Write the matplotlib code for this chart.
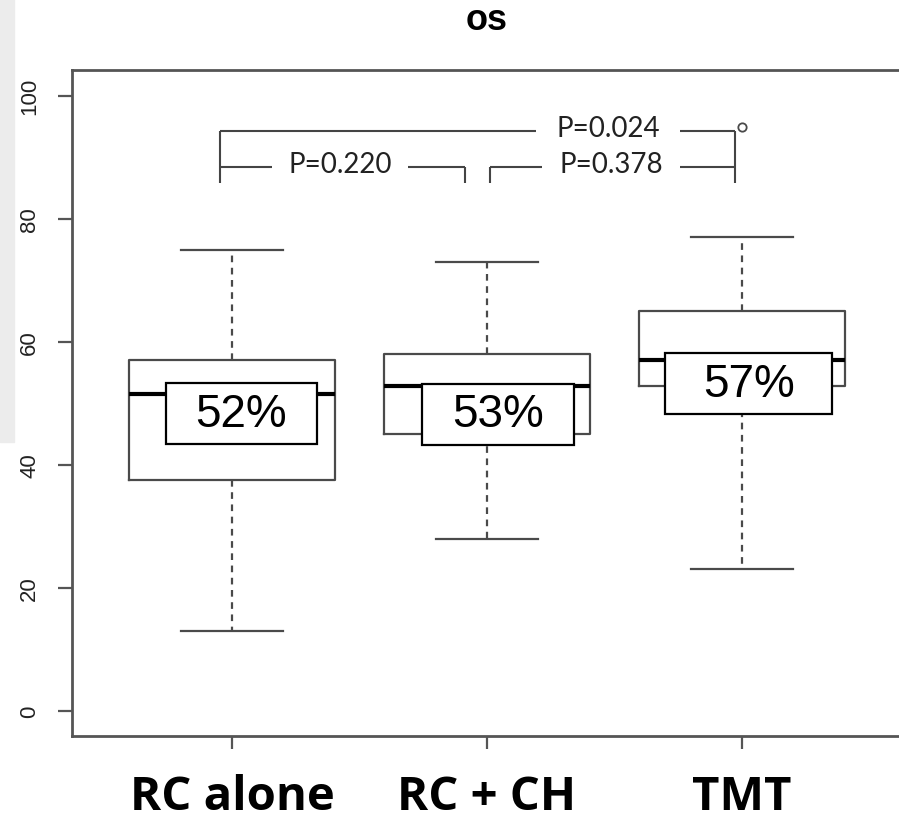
import matplotlib
matplotlib.use("Agg")
import matplotlib.pyplot as plt
from matplotlib.patches import Rectangle

# ---- data ----
groups = ["RC alone", "RC + CH", "TMT"]
whislo = [13, 28, 23]
q1 = [37.5, 45, 52.8]
med = [51.5, 52.8, 57]
q3 = [57, 58, 65]
whishi = [75, 73, 77]
fliers = [[], [], [95]]
pct_labels = ["52%", "53%", "57%"]
pvals = ["P=0.024", "P=0.220", "P=0.378"]
yticks = [0, 20, 40, 60, 80, 100]
title = "os"

W, H = 899, 820
fig = plt.figure(figsize=(W / 100, H / 100), dpi=100)
fig.patches.append(Rectangle((0, 1 - 443 / H), 14 / W, 443 / H,
                             transform=fig.transFigure, color="#ececec", zorder=0))

ax = fig.add_axes([72 / W, (H - 737) / H, (900 - 72) / W, 666 / H])
ax.set_xlim(1 - 160 / 255, 1 + 668 / 255)
ax.set_ylim(-4.12, 104.2)

stats = []
for i in range(3):
    stats.append(dict(med=med[i], q1=q1[i], q3=q3[i], whislo=whislo[i],
                      whishi=whishi[i], fliers=fliers[i], label=groups[i]))

gray = "#4a4a4a"
ax.bxp(stats, positions=[1, 2, 3], widths=0.81, capwidths=0.4,
       boxprops=dict(color=gray, lw=1.6),
       medianprops=dict(color="black", lw=3),
       whiskerprops=dict(color=gray, lw=1.6, linestyle=(0, (3, 2.5))),
       capprops=dict(color=gray, lw=1.6),
       flierprops=dict(marker="o", markerfacecolor="none", markeredgecolor=gray,
                       markersize=6, markeredgewidth=1.3))

# percentage label boxes (center x, center y, width, height in data units)
lab_pos = [(1.037, 48.3, 0.592, 9.9), (2.043, 48.2, 0.596, 9.9), (3.026, 53.2, 0.655, 9.9)]
for (cx, cy, w, h), t in zip(lab_pos, pct_labels):
    ax.add_patch(Rectangle((cx - w / 2, cy - h / 2), w, h, facecolor="white",
                           edgecolor="black", lw=1.6, zorder=5))
    ax.text(cx, cy, t, ha="center", va="center", fontsize=33,
            family="Liberation Sans", zorder=6)

# significance brackets
lc = "#444444"
lw = 1.5
xl, xr = 0.953, 2.973
xm1, xm2 = 1.914, 2.012
ytop, ymid, ybot = 94.3, 88.4, 85.8
segs = [
    ([xl, 2.192], [ytop, ytop]), ([2.757, xr], [ytop, ytop]),
    ([xl, xl], [ytop, ybot]), ([xr, xr], [ytop, ybot]),
    ([xl, 1.157], [ymid, ymid]), ([1.690, xm1], [ymid, ymid]), ([xm1, xm1], [ymid, ybot]),
    ([xm2, 2.216], [ymid, ymid]), ([2.757, xr], [ymid, ymid]), ([xm2, xm2], [ymid, ybot]),
]
for xs, ys in segs:
    ax.plot(xs, ys, color=lc, lw=lw, solid_capstyle="butt", zorder=3)

ptxt = [(2.475, ytop), (1.424, ymid), (2.486, ymid)]
for (tx, ty), t in zip(ptxt, pvals):
    ax.text(tx, ty - 0.8, t, ha="center", va="baseline", fontsize=20,
            family="Lato", color="#222222")

# axes styling
for s in ["left", "bottom", "top"]:
    ax.spines[s].set_color("#555555")
    ax.spines[s].set_linewidth(2)
ax.spines["right"].set_visible(False)

ax.set_yticks(yticks)
ax.set_yticklabels([str(v) for v in yticks], rotation=90, va="center",
                   fontsize=16, family="Liberation Sans", color="#222222")
ax.tick_params(axis="y", length=10, width=1.6, color="#555555", pad=13)
ax.set_xticks([1, 2, 3])
ax.set_xticklabels(groups, fontsize=34, family="Open Sans", fontweight="bold",
                   color="black")
ax.tick_params(axis="x", length=9.5, width=1.6, color="#555555", pad=17)

fig.text(487 / W, 1 - 21 / H, title, ha="center", va="center", fontsize=26,
         fontweight="bold", family="Liberation Sans")

fig.savefig("out.png", dpi=100)
